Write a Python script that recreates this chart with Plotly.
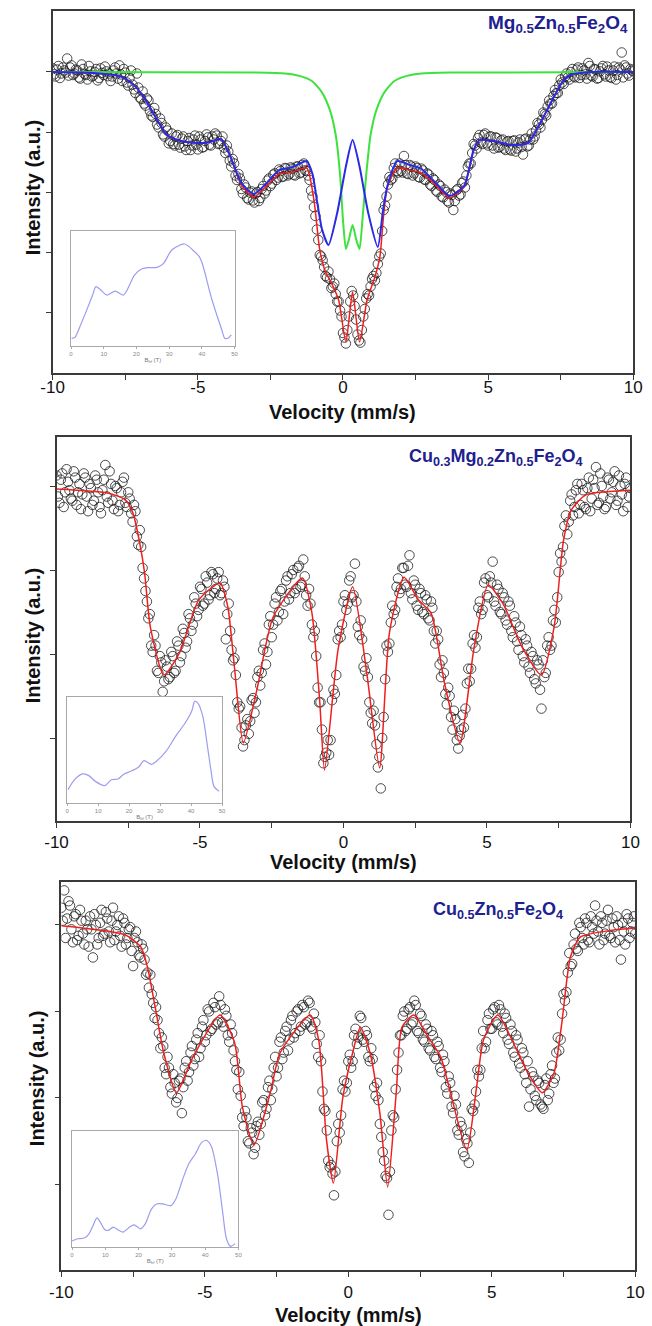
import plotly.graph_objects as go

# ---------------------------------------------------------------------------
# Mössbauer spectra (relative transmission, %) vs source velocity (mm/s)
# Channels: a 0.1 mm/s grid plus the interleaved half-step channels.
# ---------------------------------------------------------------------------
velocity = [round(-10 + 0.1 * k, 2) for k in range(201)]
velocity_mid = [round(-9.95 + 0.1 * k, 2) for k in range(200)]

# Mg0.5Zn0.5Fe2O4 — measured points
mg_counts = [
    100.12, 99.85, 100.20, 99.95, 100.05, 100.45, 100.15, 99.90, 100.08, 99.82,
    100.25, 99.93, 99.75, 100.02, 99.88, 100.10, 99.80, 99.97, 100.18, 99.86,
    99.70, 100.05, 99.95, 100.22, 99.70, 99.98, 99.55, 100.05, 99.42, 99.95,
    99.15, 99.35, 98.88, 99.05, 98.55, 98.80, 98.25, 98.45, 97.92, 98.15,
    97.62, 97.95, 97.55, 97.90, 97.48, 97.85, 97.40, 97.80, 97.55, 97.88,
    97.42, 97.75, 97.50, 97.92, 97.58, 97.85, 97.95, 97.60, 97.70, 97.48,
    97.55, 97.05, 97.10, 96.55, 96.60, 96.10, 96.25, 95.80, 95.98, 95.72,
    95.95, 95.70, 96.10, 95.95, 96.38, 96.20, 96.58, 96.40, 96.75, 96.50,
    96.80, 96.55, 96.82, 96.58, 96.85, 96.62, 96.90, 96.72, 96.55, 96.05,
    95.50, 94.75, 93.90, 93.72, 93.20, 93.35, 92.80, 92.95, 92.35, 92.05,
    91.30, 90.95, 91.85, 92.70, 92.20, 91.25, 90.98, 91.85, 92.45, 92.55,
    93.10, 93.05, 93.60, 93.95, 95.40, 95.85, 96.50, 96.45, 96.95, 96.65,
    96.70, 97.20, 96.62, 96.90, 96.55, 96.85, 96.50, 96.78, 96.42, 96.62,
    96.25, 96.45, 96.05, 96.25, 95.85, 96.08, 95.70, 95.95, 95.40, 96.05,
    95.88, 96.30, 96.15, 96.85, 96.95, 97.60, 97.45, 97.90, 97.60, 97.95,
    97.55, 97.85, 97.45, 97.80, 97.50, 97.75, 97.40, 97.70, 97.38, 97.72,
    97.45, 97.75, 97.25, 97.78, 97.55, 97.95, 97.85, 98.30, 98.15, 98.65,
    98.55, 99.05, 98.95, 99.40, 99.30, 99.75, 99.60, 99.95, 99.75, 100.10,
    99.82, 100.15, 99.90, 100.05, 99.78, 100.20, 99.85, 100.08, 99.80, 100.12,
    99.92, 100.18, 99.83, 100.05, 99.75, 100.15, 100.65, 100.22, 99.95, 100.10,
    100.02,
]
mg_counts_mid = [
    99.92, 100.08, 99.80, 100.15, 99.98, 99.88, 100.22, 99.95, 100.05, 99.78,   # -9.95 .. -9.05
    100.10, 99.90, 100.20, 99.85, 100.00, 99.72, 100.12, 99.90, 100.02, 99.95,  # -8.95 .. -8.05
    99.85, 100.15, 99.78, 99.92, 100.10, 99.65, 99.80, 99.58, 99.30, 99.48,     # -7.95 .. -7.05
    99.10, 98.95, 99.12, 98.70, 98.50, 98.60, 98.15, 98.30, 97.85, 98.05,       # -6.95 .. -6.05
    97.70, 97.60, 97.85, 97.58, 97.78, 97.52, 97.70, 97.40, 97.75, 97.58,       # -5.95 .. -5.05
    97.85, 97.48, 97.70, 97.82, 97.55, 97.75, 97.88, 97.62, 97.85, 97.30,       # -4.95 .. -4.05
    97.35, 96.85, 96.95, 96.40, 96.45, 95.95, 96.15, 95.75, 96.02, 95.65,       # -3.95 .. -3.05
    96.00, 95.80, 96.20, 96.05, 96.45, 96.28, 96.62, 96.48, 96.70, 96.52,       # -2.95 .. -2.05
    96.78, 96.60, 96.78, 96.55, 96.85, 96.65, 96.95, 96.70, 96.40, 95.85,       # -1.95 .. -1.05
    95.20, 94.40, 93.85, 93.50, 93.15, 93.10, 92.85, 92.60, 92.35, 91.85,       # -0.95 .. -0.05
    91.15, 91.40, 92.35, 92.55, 91.75, 91.05, 91.40, 92.10, 92.60, 92.85,       # 0.05 .. 0.95
    93.20, 93.30, 93.85, 94.70, 95.55, 96.25, 96.40, 96.80, 96.70, 96.95,       # 1.05 .. 1.95
    96.65, 96.90, 96.60, 96.85, 96.62, 96.80, 96.48, 96.72, 96.40, 96.58,       # 2.05 .. 2.95
    96.20, 96.40, 96.00, 96.20, 95.82, 96.00, 95.65, 95.90, 95.70, 96.10,       # 3.05 .. 3.95
    95.92, 96.35, 96.55, 96.95, 97.30, 97.55, 97.80, 97.65, 97.90, 97.62,       # 4.05 .. 4.95
    97.85, 97.55, 97.82, 97.48, 97.72, 97.45, 97.68, 97.42, 97.70, 97.35,       # 5.05 .. 5.95
    97.65, 97.50, 97.75, 97.52, 97.75, 97.75, 98.05, 98.25, 98.40, 98.60,       # 6.05 .. 6.95
    98.85, 98.95, 99.20, 99.30, 99.55, 99.65, 99.85, 99.82, 100.00, 99.85,      # 7.05 .. 7.95
    100.08, 99.80, 100.12, 99.92, 100.30, 99.88, 100.10, 99.78, 100.02, 100.20, # 8.05 .. 8.95
    99.85, 100.05, 99.80, 100.18, 99.90, 100.08, 99.82, 100.15, 99.88, 100.05,  # 9.05 .. 9.95
]

# Mg0.5Zn0.5Fe2O4 — total fit
mg_fit_v = [-10, -8.6, -7.9, -7.6, -7.2, -6.8, -6.4, -6.07, -5.6, -5.0,
            -4.57, -4.2, -3.9, -3.5, -3.07, -2.6, -2.2, -1.73, -1.25, -1.0,
            -0.8, -0.6, -0.4, -0.15, 0.1, 0.33, 0.57, 0.83, 1.1, 1.27,
            1.4, 1.53, 1.87, 2.3, 2.7, 3.2, 3.67, 4.17, 4.5, 4.7,
            5.2, 5.8, 6.37, 6.7, 7.03, 7.53, 7.83, 8.5, 10]
mg_fit_i = [100.0, 99.97, 99.9, 99.83, 99.57, 99.07, 98.4, 97.9, 97.7, 97.63,
            97.67, 97.77, 97.23, 96.23, 95.83, 96.23, 96.6, 96.67, 96.8, 95.73,
            94.07, 93.33, 92.97, 92.4, 91.0, 92.67, 91.0, 92.4, 93.17, 93.83,
            95.23, 96.17, 96.8, 96.73, 96.63, 96.23, 95.8, 96.17, 97.4, 97.73,
            97.7, 97.57, 97.63, 98.13, 98.73, 99.63, 99.9, 100.0, 100.0]

# Mg0.5Zn0.5Fe2O4 — magnetic (sextet distribution) component
mg_sextet_v = [-10, -8.6, -7.9, -7.6, -7.2, -6.8, -6.4, -6.07, -5.6, -5.0,
               -4.57, -4.2, -3.9, -3.5, -3.07, -2.6, -2.2, -1.73, -1.25, -1.05,
               -0.9, -0.72, -0.5, -0.2, 0.1, 0.33, 0.57, 0.87, 1.2, 1.38,
               1.53, 1.87, 2.3, 2.7, 3.2, 3.67, 4.17, 4.5, 4.7, 5.2,
               5.8, 6.37, 6.7, 7.03, 7.53, 7.83, 8.5, 10]
mg_sextet_i = [100.0, 99.97, 99.9, 99.83, 99.57, 99.07, 98.4, 97.9, 97.7, 97.63,
               97.67, 97.77, 97.23, 96.3, 95.93, 96.33, 96.73, 96.83, 97.03, 96.6,
               95.73, 94.75, 94.23, 95.3, 96.85, 97.73, 96.85, 95.3, 94.17, 95.4,
               96.2, 97.03, 96.9, 96.77, 96.3, 95.87, 96.2, 97.4, 97.73, 97.7,
               97.57, 97.63, 98.13, 98.73, 99.63, 99.9, 100.0, 100.0]

# Mg0.5Zn0.5Fe2O4 — paramagnetic doublet component
mg_doublet_v = [-10, -3, -2, -1.5, -1.07, -0.73, -0.45, -0.25, -0.1, 0.0,
                0.1, 0.2, 0.33, 0.46, 0.57, 0.67, 0.8, 0.95, 1.15, 1.43,
                1.77, 2.2, 2.7, 3.7, 10]
mg_doublet_i = [100, 99.98, 99.95, 99.87, 99.7, 99.33, 98.73, 97.9, 96.57, 95.07,
                94.1, 94.4, 94.9, 94.4, 94.1, 95.07, 96.57, 97.9, 98.73, 99.33,
                99.7, 99.87, 99.95, 99.98, 100]

# Cu0.3Mg0.2Zn0.5Fe2O4 — measured points
cumg_counts = [
    100.25, 99.60, 100.30, 99.85, 100.10, 99.70, 100.35, 99.55, 100.05, 99.80,
    100.20, 99.40, 99.95, 99.65, 100.15, 99.50, 99.90, 100.50, 99.60, 100.05,
    99.45, 99.95, 99.55, 100.10, 99.60, 99.85, 99.35, 99.55, 98.80, 98.95,
    98.05, 97.50, 96.85, 96.20, 96.45, 95.60, 95.95, 95.10, 95.85, 95.40,
    96.05, 95.55, 96.30, 95.80, 96.60, 96.15, 96.95, 96.55, 97.35, 96.90,
    97.60, 97.15, 97.85, 97.30, 97.95, 97.45, 97.80, 97.40, 97.75, 96.35,
    97.20, 96.10, 95.90, 94.85, 94.75, 93.80, 94.30, 94.10, 94.90, 94.60,
    95.45, 95.25, 96.10, 95.75, 96.70, 96.40, 97.20, 96.80, 97.50, 96.95,
    97.75, 97.30, 97.90, 97.45, 98.05, 97.60, 98.25, 97.40, 97.55, 96.70,
    96.55, 95.20, 94.85, 93.40, 93.65, 93.60, 94.90, 95.05, 96.35, 96.40,
    97.25, 97.05, 97.75, 97.35, 98.15, 96.65, 96.80, 95.70, 95.90, 94.85,
    94.35, 94.30, 93.30, 92.80, 94.50, 96.20, 96.25, 97.15, 97.05, 97.80,
    97.55, 98.05, 97.60, 98.35, 97.30, 97.65, 97.05, 97.45, 96.95, 97.30,
    96.80, 97.10, 96.25, 96.35, 95.45, 95.55, 94.80, 95.00, 94.20, 94.45,
    93.75, 94.20, 94.25, 95.30, 95.35, 96.25, 96.15, 97.10, 96.95, 97.70,
    97.40, 97.85, 98.20, 97.15, 97.55, 96.95, 97.35, 96.70, 97.15, 96.40,
    96.75, 96.10, 96.45, 95.80, 96.20, 95.55, 95.95, 95.30, 95.75, 94.70,
    95.45, 96.20, 96.10, 96.80, 96.75, 97.95, 98.20, 99.05, 98.85, 99.65,
    99.30, 99.90, 99.35, 100.05, 99.50, 99.95, 99.40, 100.15, 100.45, 99.60,
    100.00, 99.45, 100.20, 99.70, 100.10, 99.55, 100.25, 99.80, 100.05, 99.50,
    99.95,
]
cumg_counts_mid = [
    99.75, 100.15, 99.50, 100.40, 99.90, 99.65, 100.20, 99.85, 99.45, 100.30,   # -9.95 .. -9.05
    99.75, 100.05, 99.55, 100.25, 99.85, 99.35, 100.15, 99.75, 100.35, 99.65,   # -8.95 .. -8.05
    100.00, 99.40, 99.85, 100.20, 99.50, 99.70, 99.15, 99.40, 98.60, 98.55,     # -7.95 .. -7.05
    97.80, 97.25, 96.95, 96.05, 96.20, 95.55, 95.80, 95.35, 95.70, 95.45,       # -6.95 .. -6.05
    95.95, 95.60, 96.20, 95.95, 96.50, 96.30, 96.85, 96.70, 97.20, 97.05,       # -5.95 .. -5.05
    97.55, 97.20, 97.70, 97.40, 97.90, 97.55, 97.95, 97.45, 97.60, 96.95,       # -4.95 .. -4.05
    96.55, 95.85, 95.50, 94.70, 94.25, 93.95, 94.45, 94.40, 94.95, 94.85,       # -3.95 .. -3.05
    95.60, 95.55, 96.25, 96.05, 96.90, 96.70, 97.35, 97.00, 97.55, 97.25,       # -2.95 .. -2.05
    97.85, 97.45, 98.00, 97.55, 98.10, 97.65, 97.85, 97.15, 97.20, 96.40,       # -1.95 .. -1.05
    95.95, 94.85, 94.20, 93.55, 93.95, 93.95, 95.15, 95.50, 96.55, 96.70,       # -0.95 .. -0.05
    97.40, 97.20, 97.85, 97.40, 97.25, 96.45, 96.35, 95.60, 95.45, 94.60,       # 0.05 .. 0.95
    94.65, 93.85, 93.55, 94.00, 95.40, 96.05, 96.75, 96.95, 97.60, 97.45,       # 1.05 .. 1.95
    98.05, 97.65, 98.10, 97.45, 97.75, 97.15, 97.55, 97.00, 97.40, 96.85,       # 2.05 .. 2.95
    97.25, 96.55, 96.55, 95.75, 95.85, 95.05, 95.20, 94.50, 94.65, 93.95,       # 3.05 .. 3.95
    94.05, 94.55, 94.70, 95.65, 95.65, 96.45, 96.40, 97.25, 97.05, 97.80,       # 4.05 .. 4.95
    97.35, 97.70, 97.25, 97.65, 97.00, 97.45, 96.80, 97.25, 96.55, 96.90,       # 5.05 .. 5.95
    96.30, 96.65, 95.95, 96.35, 95.70, 96.05, 95.40, 95.85, 95.15, 95.85,       # 6.05 .. 6.95
    95.55, 96.40, 96.20, 97.05, 97.35, 98.40, 98.55, 99.30, 99.15, 99.80,       # 7.05 .. 7.95
    99.50, 100.05, 99.55, 99.90, 99.45, 100.20, 99.70, 99.95, 99.55, 100.30,    # 8.05 .. 8.95
    99.75, 99.50, 100.15, 99.85, 100.35, 99.65, 100.00, 99.40, 100.20, 99.75,   # 9.05 .. 9.95
]

cumg_fit_v = [-10, -8.18, -7.6, -7.34, -7.1, -6.93, -6.73, -6.26, -5.72, -5.04,
              -4.3, -4.03, -3.8, -3.49, -3.02, -2.45, -1.43, -1.1, -0.83, -0.66,
              -0.19, 0.32, 0.83, 1.26, 1.6, 2.11, 2.61, 3.05, 3.52, 4.06,
              4.54, 5.04, 5.55, 6.22, 6.9, 7.34, 7.67, 7.94, 8.45, 10]
cumg_fit_i = [99.93, 99.83, 99.67, 99.36, 98.64, 97.93, 96.64, 95.5, 96.02, 97.29,
              97.69, 97.12, 95.69, 93.88, 95.14, 96.88, 97.81, 96.98, 94.9, 93.24,
              96.1, 97.6, 95.45, 93.29, 96.5, 97.83, 97.29, 96.98, 95.31, 93.88,
              96.1, 97.64, 97.21, 96.17, 95.5, 96.64, 98.71, 99.43, 99.79, 99.9]

# Cu0.5Zn0.5Fe2O4 — measured points
cu_counts = [
    100.40, 100.80, 100.15, 100.45, 99.60, 100.25, 99.75, 100.10, 99.55, 99.90,
    100.20, 99.25, 100.00, 99.70, 100.35, 99.80, 100.15, 99.60, 100.40, 99.85,
    100.20, 99.50, 100.05, 99.70, 99.95, 99.05, 99.85, 99.30, 99.55, 99.20,
    98.90, 98.85, 98.20, 98.10, 97.50, 97.40, 96.70, 96.95, 96.25, 96.55,
    95.90, 96.40, 95.65, 96.70, 96.40, 97.05, 96.75, 97.35, 96.95, 97.65,
    97.30, 98.05, 97.55, 98.20, 97.70, 98.35, 97.75, 98.05, 97.45, 97.70,
    97.10, 96.65, 96.60, 95.55, 95.70, 95.00, 95.30, 94.70, 95.35, 95.15,
    95.90, 95.60, 96.25, 95.95, 96.70, 96.50, 97.30, 96.90, 97.55, 97.10,
    97.80, 97.40, 98.00, 97.55, 98.15, 97.70, 98.25, 97.65, 97.95, 97.25,
    97.45, 96.15, 95.70, 94.55, 94.45, 93.75, 95.00, 95.20, 96.20, 96.15,
    96.85, 96.70, 97.45, 97.25, 97.90, 97.35, 97.55, 96.95, 97.15, 96.25,
    96.35, 95.40, 94.75, 94.20, 93.30, 95.25, 95.55, 96.65, 97.45, 97.90,
    97.55, 98.05, 97.70, 98.25, 97.55, 97.95, 97.35, 97.70, 97.15, 97.55,
    96.95, 97.30, 96.70, 97.00, 96.25, 96.50, 95.80, 96.05, 95.25, 95.45,
    94.75, 95.05, 94.50, 95.75, 95.85, 96.65, 96.65, 97.55, 97.30, 97.95,
    97.60, 98.10, 97.70, 98.05, 97.50, 97.85, 97.25, 97.55, 96.95, 97.35,
    96.70, 97.05, 96.35, 95.80, 96.60, 96.05, 96.40, 95.85, 95.75, 96.45,
    96.10, 96.75, 96.45, 97.40, 97.35, 98.40, 98.45, 99.35, 99.10, 99.80,
    99.40, 99.95, 99.55, 100.05, 99.60, 99.95, 100.45, 99.85, 100.20, 99.65,
    100.10, 99.75, 100.15, 99.60, 100.00, 99.20, 99.85, 100.25, 99.70, 100.05,
    99.80,
]
cu_counts_mid = [
    100.10, 99.70, 100.55, 99.90, 100.20, 99.65, 100.35, 99.80, 100.10, 99.50,  # -9.95 .. -9.05
    99.90, 100.25, 99.55, 100.05, 99.75, 100.30, 99.85, 100.10, 99.65, 100.00,  # -8.95 .. -8.05
    99.75, 100.15, 99.55, 99.90, 99.40, 99.70, 99.60, 99.25, 99.45, 98.85,      # -7.95 .. -7.05
    98.55, 98.40, 97.85, 97.80, 97.15, 97.20, 96.55, 96.70, 96.10, 96.35,       # -6.95 .. -6.05
    96.00, 96.45, 96.25, 96.85, 96.60, 97.20, 96.90, 97.50, 97.15, 97.80,       # -5.95 .. -5.05
    97.45, 98.00, 97.60, 98.10, 97.75, 98.15, 97.65, 97.90, 97.30, 97.50,       # -4.95 .. -4.05
    96.85, 96.20, 96.05, 95.35, 95.55, 94.95, 95.20, 94.85, 95.45, 95.40,       # -3.95 .. -3.05
    95.95, 95.75, 96.40, 96.20, 96.95, 96.70, 97.40, 97.05, 97.65, 97.35,       # -2.95 .. -2.05
    97.90, 97.50, 98.05, 97.65, 98.10, 97.75, 98.20, 97.60, 97.75, 96.95,       # -1.95 .. -1.05
    96.85, 95.75, 95.25, 94.40, 94.25, 94.30, 95.40, 95.60, 96.40, 96.35,       # -0.95 .. -0.05
    97.00, 96.85, 97.60, 97.40, 97.85, 97.30, 97.45, 96.85, 96.90, 96.05,       # 0.05 .. 0.95
    95.95, 95.10, 94.55, 94.15, 94.30, 95.60, 96.20, 97.05, 97.45, 98.00,       # 1.05 .. 1.95
    97.60, 98.10, 97.75, 98.15, 97.50, 97.90, 97.30, 97.60, 97.10, 97.45,       # 2.05 .. 2.95
    96.90, 97.20, 96.60, 96.85, 96.10, 96.35, 95.65, 95.85, 95.15, 95.35,       # 3.05 .. 3.95
    94.65, 94.95, 95.20, 95.70, 96.15, 96.50, 97.15, 97.15, 97.80, 97.60,       # 4.05 .. 4.95
    98.05, 97.75, 98.15, 97.65, 97.95, 97.35, 97.70, 97.05, 97.45, 96.80,       # 5.05 .. 5.95
    97.15, 96.55, 96.85, 96.20, 96.50, 95.95, 96.35, 95.80, 96.30, 95.95,       # 6.05 .. 6.95
    96.55, 96.35, 97.05, 97.10, 97.95, 98.25, 98.90, 99.05, 99.55, 99.45,       # 7.05 .. 7.95
    100.05, 99.70, 100.15, 99.65, 100.20, 99.80, 100.10, 99.55, 100.05, 99.80,  # 8.05 .. 8.95
    100.35, 99.70, 99.95, 100.20, 99.65, 100.05, 99.55, 100.15, 99.85, 100.20,  # 9.05 .. 9.95
]

cu_fit_v = [-10, -7.77, -7.23, -7.0, -6.73, -6.43, -5.99, -5.41, -4.47, -3.96,
            -3.69, -3.29, -2.72, -2.38, -1.33, -1.03, -0.76, -0.52, -0.19, 0.15,
            0.42, 0.76, 1.1, 1.37, 1.67, 1.87, 2.28, 2.78, 3.22, 3.56,
            4.13, 4.47, 4.71, 5.21, 5.82, 6.26, 6.76, 7.17, 7.44, 7.74,
            8.08, 9.19, 10]
cu_fit_i = [99.98, 99.77, 99.49, 99.03, 98.1, 97.04, 96.12, 96.95, 97.92, 97.27,
            95.79, 94.91, 96.12, 97.04, 97.92, 97.34, 95.03, 94.03, 96.02, 97.04,
            97.64, 97.04, 95.65, 93.94, 96.12, 97.64, 97.92, 97.41, 96.95, 96.12,
            94.8, 96.25, 97.34, 97.92, 97.18, 96.58, 96.12, 96.58, 97.73, 99.26,
            99.72, 99.88, 99.93]

# Hyperfine field distributions P(B_hf)
mg_bhf = [0.2, 1.2, 2.7, 4.6, 6.6, 7.6, 9.0, 11.0, 13.5, 16.0,
          19.4, 21.4, 23.4, 26.3, 28.3, 30.8, 34.7, 37.2, 39.2, 40.1,
          43.1, 46.1, 47.0, 48.0, 49.0]
mg_pb = [0.067, 0.075, 0.168, 0.299, 0.443, 0.516, 0.49, 0.443, 0.478, 0.443,
         0.617, 0.667, 0.681, 0.684, 0.719, 0.835, 0.887, 0.835, 0.777, 0.719,
         0.4, 0.139, 0.067, 0.067, 0.096]

cumg_bhf = [0.3, 2.4, 5.0, 7.0, 9.1, 12.2, 14.3, 16.4, 18.4, 20.5,
            23.1, 24.8, 27.2, 28.8, 31.9, 35.0, 38.1, 40.2, 41.2, 42.2,
            43.8, 45.3, 46.4, 47.4, 49.0]
cumg_pb = [0.126, 0.22, 0.274, 0.258, 0.204, 0.164, 0.22, 0.226, 0.274, 0.299,
           0.34, 0.399, 0.365, 0.393, 0.487, 0.629, 0.755, 0.865, 0.959, 0.943,
           0.818, 0.535, 0.314, 0.157, 0.11]

cu_bhf = [0, 1.7, 3.7, 5.1, 6.1, 7.5, 8.5, 9.9, 10.9, 12.4,
          13.3, 15.3, 17.2, 18.6, 20.6, 22.0, 23.9, 25.4, 27.3, 29.7,
          31.2, 33.1, 35.0, 37.0, 38.9, 40.3, 41.8, 43.7, 45.2, 46.4,
          47.6, 49.0]
cu_pb = [0.051, 0.071, 0.077, 0.114, 0.171, 0.251, 0.214, 0.149, 0.143, 0.171,
         0.157, 0.129, 0.171, 0.191, 0.157, 0.2, 0.329, 0.371, 0.371, 0.357,
         0.414, 0.571, 0.714, 0.8, 0.9, 0.92, 0.871, 0.629, 0.314, 0.071,
         0.006, 0.029]

velocity_ticks = [-10, -5, 0, 5, 10]
velocity_ticktext = ["-10", "-5", "0", "5", "10"]
bhf_ticks = [0, 10, 20, 30, 40, 50]

# ---------------------------------------------------------------------------
W, H = 652, 1326
FONT = "Liberation Sans, Arial, sans-serif"
AX = "#3a3a3a"
NAVY = "#20208f"
PT = "rgba(25,25,25,0.78)"


def px(x):
    return x / W


def py(y):
    return 1 - y / H


fig = go.Figure()

pt_marker = dict(symbol="circle-open", size=9.5, color=PT, line=dict(width=1, color=PT))
red_line = dict(color="#f01e1e", width=1.5, shape="spline", smoothing=0.6)


def add_points(counts, counts_mid, xa, ya):
    fig.add_trace(go.Scatter(x=velocity + velocity_mid, y=counts + counts_mid,
                             mode="markers", marker=pt_marker, xaxis=xa, yaxis=ya))


# panel 1
add_points(mg_counts, mg_counts_mid, "x", "y")
fig.add_trace(go.Scatter(x=mg_fit_v, y=mg_fit_i, mode="lines", line=red_line,
                         xaxis="x", yaxis="y"))
fig.add_trace(go.Scatter(x=mg_doublet_v, y=mg_doublet_i, mode="lines",
                         line=dict(color="#3ee23e", width=2, shape="spline", smoothing=0.6),
                         xaxis="x", yaxis="y"))
fig.add_trace(go.Scatter(x=mg_sextet_v, y=mg_sextet_i, mode="lines",
                         line=dict(color="#2a2ae6", width=2, shape="spline", smoothing=0.6),
                         xaxis="x", yaxis="y"))

# panel 2
add_points(cumg_counts, cumg_counts_mid, "x2", "y2")
fig.add_trace(go.Scatter(x=cumg_fit_v, y=cumg_fit_i, mode="lines", line=red_line,
                         xaxis="x2", yaxis="y2"))

# panel 3
add_points(cu_counts, cu_counts_mid, "x3", "y3")
fig.add_trace(go.Scatter(x=cu_fit_v, y=cu_fit_i, mode="lines", line=red_line,
                         xaxis="x3", yaxis="y3"))

# insets: field distributions
inset_line = dict(color="#9c9cf0", width=1.2, shape="spline", smoothing=0.8)
for b, p, xa, ya in [(mg_bhf, mg_pb, "x4", "y4"),
                     (cumg_bhf, cumg_pb, "x5", "y5"),
                     (cu_bhf, cu_pb, "x6", "y6")]:
    fig.add_trace(go.Scatter(x=b, y=p, mode="lines", line=inset_line,
                             xaxis=xa, yaxis=ya))


def main_x(dom, anchor, standoff):
    return dict(domain=dom, anchor=anchor, range=[-10, 10], tickvals=velocity_ticks,
                ticktext=velocity_ticktext,
                ticks="outside", ticklen=5, tickwidth=1.3, tickcolor=AX,
                minor=dict(dtick=2.5, tick0=-10, ticks="outside", ticklen=5,
                           tickwidth=1.3, tickcolor=AX),
                showline=True, linecolor=AX, linewidth=1.6, mirror=True,
                showgrid=False, zeroline=False, ticklabelstandoff=standoff,
                tickfont=dict(family=FONT, size=17, color="#111"))


def main_y(dom, anchor, rng, tv):
    return dict(domain=dom, anchor=anchor, range=rng, tickvals=tv,
                showticklabels=False, ticks="outside", ticklen=5, tickwidth=1.3,
                tickcolor=AX, showline=True, linecolor=AX, linewidth=1.6,
                mirror=True, showgrid=False, zeroline=False)


def inset_x(dom, anchor):
    return dict(domain=dom, anchor=anchor, range=[0, 50], tickvals=bhf_ticks,
                ticks="outside", ticklen=2, tickwidth=0.6, tickcolor="#aaa",
                showline=True, linecolor="#a8a8a8", linewidth=1, mirror=True,
                showgrid=False, zeroline=False, ticklabelstandoff=0,
                tickfont=dict(family=FONT, size=6, color="#888"),
                title=dict(text="B<sub>hf</sub> (T)", standoff=1,
                           font=dict(family=FONT, size=6, color="#777")))


def inset_y(dom, anchor):
    return dict(domain=dom, anchor=anchor, range=[0, 1], showticklabels=False,
                ticks="", showline=True, linecolor="#a8a8a8", linewidth=1,
                mirror=True, showgrid=False, zeroline=False)


fig.update_layout(
    width=W, height=H, margin=dict(l=0, r=0, t=0, b=0),
    paper_bgcolor="white", plot_bgcolor="white", showlegend=False,
    font=dict(family=FONT),
    xaxis=main_x([px(42), px(642)], "y", -7),
    yaxis=main_y([py(373), py(11)], "x", [89.967, 102.033], [92, 94, 96, 98, 100]),
    xaxis2=main_x([px(46), px(639)], "y2", 0),
    yaxis2=main_y([py(821), py(437)], "x2", [92.024, 101.167], [94, 96, 98, 100]),
    xaxis3=main_x([px(51), px(644)], "y3", 1),
    yaxis3=main_y([py(1270), py(882)], "x3", [92.023, 100.994], [94, 96, 98, 100]),
    xaxis4=inset_x([px(61), px(230)], "y4"),
    yaxis4=inset_y([py(346), py(231)], "x4"),
    xaxis5=inset_x([px(57), px(217)], "y5"),
    yaxis5=inset_y([py(803), py(697)], "x5"),
    xaxis6=inset_x([px(62), px(234)], "y6"),
    yaxis6=inset_y([py(1247), py(1131)], "x6"),
)

annotations = []
title_font = dict(family=FONT, size=20, color="#111")
for cx, cy in [(342, 412), (342.5, 862), (347.5, 1315)]:
    annotations.append(dict(text="<b>Velocity (mm/s)</b>", x=px(cx), y=py(cy),
                            xref="paper", yref="paper", showarrow=False,
                            xanchor="center", yanchor="middle", font=title_font))
for cx, cy in [(22, 187), (22, 635), (26, 1078)]:
    annotations.append(dict(text="<b>Intensity (a.u.)</b>", x=px(cx), y=py(cy),
                            xref="paper", yref="paper", showarrow=False, textangle=-90,
                            xanchor="center", yanchor="middle", font=title_font))

annotations.append(dict(
    text="<b>Mg<sub>0.5</sub>Zn<sub>0.5</sub>Fe<sub>2</sub>O<sub>4</sub></b>",
    x=px(639), y=py(24), xref="paper", yref="paper", showarrow=False,
    xanchor="right", yanchor="middle", font=dict(family=FONT, size=19, color=NAVY)))
annotations.append(dict(
    text="<b>Cu<sub>0.3</sub>Mg<sub>0.2</sub>Zn<sub>0.5</sub>Fe<sub>2</sub>O<sub>4</sub></b>",
    x=px(500), y=py(457), xref="paper", yref="paper", showarrow=False,
    xanchor="center", yanchor="middle", font=dict(family=FONT, size=18, color=NAVY)))
annotations.append(dict(
    text="<b>Cu<sub>0.5</sub>Zn<sub>0.5</sub>Fe<sub>2</sub>O<sub>4</sub></b>",
    x=px(502), y=py(910), xref="paper", yref="paper", showarrow=False,
    xanchor="center", yanchor="middle", font=dict(family=FONT, size=18, color=NAVY)))

fig.update_layout(annotations=annotations)

fig.write_html("out.html")
